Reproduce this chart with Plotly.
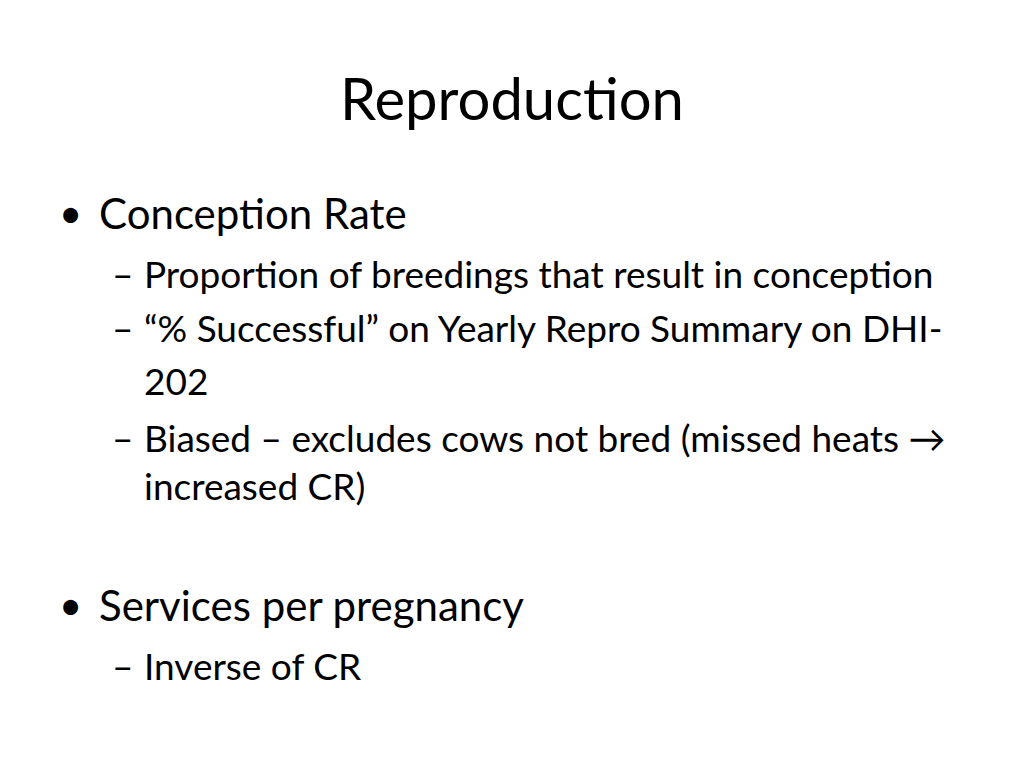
import plotly.graph_objects as go

title = "Reproduction"
# (level, marker, text, y_pixel_center)
lines = [
    (1, "•", "Conception Rate", 213),
    (2, "–", "Proportion of breedings that result in conception", 273),
    (2, "–", "“% Successful” on Yearly Repro Summary on DHI-", 327),
    (0, "", "202", 380),
    (2, "–", "Biased – excludes cows not bred (missed heats →", 437),
    (0, "", "increased CR)", 485),
    (1, "•", "Services per pregnancy", 605),
    (2, "–", "Inverse of CR", 665),
]

W, H = 1024, 768
OFF = 8  # page body margin
FONT = "Lato"

fig = go.Figure()
fig.update_layout(
    width=W - OFF, height=H - OFF, margin=dict(l=0, r=0, t=0, b=0),
    paper_bgcolor="white", plot_bgcolor="white",
    xaxis=dict(visible=False, range=[OFF, W]),
    yaxis=dict(visible=False, range=[H, OFF]),
    showlegend=False,
)

anns = [dict(x=512, y=97, text=title, showarrow=False, xanchor="center", yanchor="middle",
             font=dict(family=FONT, size=58, color="black"))]
for level, marker, text, y in lines:
    if level == 1:
        anns.append(dict(x=70, y=y, text=marker, showarrow=False, xanchor="center", yanchor="middle",
                         font=dict(family=FONT, size=40, color="black")))
        anns.append(dict(x=97, y=y, text=text, showarrow=False, xanchor="left", yanchor="middle",
                         font=dict(family=FONT, size=42, color="black")))
    else:
        if marker:
            anns.append(dict(x=110, y=y, text=marker, showarrow=False, xanchor="left", yanchor="middle",
                             font=dict(family=FONT, size=37, color="black")))
        anns.append(dict(x=142, y=y, text=text, showarrow=False, xanchor="left", yanchor="middle",
                         font=dict(family=FONT, size=37, color="black")))
fig.update_layout(annotations=anns)

fig.write_html("out.html")
